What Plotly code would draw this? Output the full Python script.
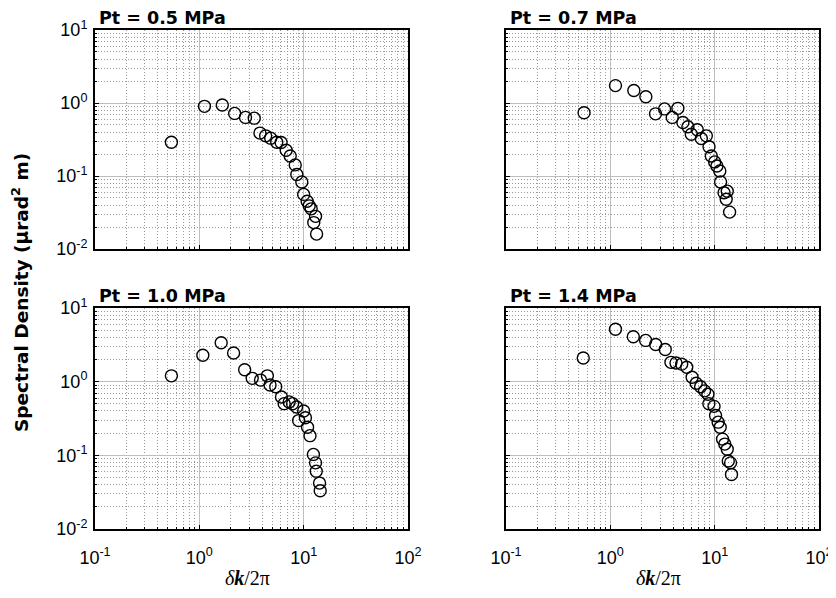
import plotly.graph_objects as go

titles = ["Pt = 0.5 MPa", "Pt = 0.7 MPa", "Pt = 1.0 MPa", "Pt = 1.4 MPa"]

x_05 = [0.54, 1.12, 1.66, 2.18, 2.77, 3.36, 3.81, 4.32, 4.83, 5.52, 6.08, 6.8, 7.43, 8.3, 8.6, 9.6, 10.0, 10.8, 11.3, 11.8, 13.0, 12.5, 13.3]
y_05 = [0.29, 0.90, 0.94, 0.72, 0.635, 0.62, 0.387, 0.355, 0.33, 0.29, 0.288, 0.225, 0.188, 0.142, 0.105, 0.083, 0.056, 0.045, 0.039, 0.0355, 0.028, 0.023, 0.016]

x_07 = [0.56, 1.12, 1.68, 2.19, 2.71, 3.31, 4.44, 3.92, 4.96, 5.54, 5.97, 6.81, 7.45, 8.32, 8.83, 9.29, 10.0, 10.5, 11.2, 11.4, 12.3, 13.2, 12.9, 13.9]
y_07 = [0.736, 1.73, 1.48, 1.22, 0.71, 0.83, 0.845, 0.635, 0.54, 0.472, 0.374, 0.43, 0.327, 0.355, 0.251, 0.188, 0.156, 0.137, 0.117, 0.083, 0.059, 0.062, 0.048, 0.032]

x_10 = [0.54, 1.08, 1.62, 2.13, 2.72, 3.21, 3.86, 4.49, 4.76, 5.4, 6.13, 6.5, 7.26, 7.83, 8.55, 8.95, 10.0, 10.4, 10.9, 11.5, 12.4, 13.0, 13.2, 14.2, 14.4]
y_10 = [1.2, 2.28, 3.37, 2.45, 1.45, 1.11, 1.05, 1.2, 0.90, 0.853, 0.62, 0.503, 0.531, 0.503, 0.453, 0.296, 0.40, 0.323, 0.24, 0.185, 0.103, 0.079, 0.061, 0.042, 0.033]

x_14 = [0.55, 1.12, 1.66, 2.18, 2.72, 3.36, 3.81, 4.26, 4.83, 5.4, 6.08, 6.65, 7.33, 8.0, 8.62, 8.8, 9.86, 10.2, 10.8, 11.3, 11.9, 12.5, 13.2, 13.5, 14.2, 14.5]
y_14 = [2.1, 5.14, 4.07, 3.63, 3.2, 2.73, 1.83, 1.79, 1.73, 1.57, 1.15, 0.95, 0.853, 0.75, 0.676, 0.503, 0.462, 0.348, 0.282, 0.24, 0.166, 0.142, 0.121, 0.0836, 0.079, 0.055]

series = [(x_05, y_05), (x_07, y_07), (x_10, y_10), (x_14, y_14)]

tick_vals = [0.1, 1, 10, 100]
x_tick_text = ["10<sup>-1</sup>", "10<sup>0</sup>", "10<sup>1</sup>", "10<sup>2</sup>"]
y_tick_vals = [0.01, 0.1, 1, 10]
y_tick_text = ["10<sup>-2</sup>", "10<sup>-1</sup>", "10<sup>0</sup>", "10<sup>1</sup>"]

# page body adds an 8px margin; lay the figure out in page pixels minus that offset
OFF = 8
W, H = 836 - OFF, 598 - OFF


def px(x):
    return (x - OFF) / W


def py(y):
    return 1 - (y - OFF) / H


xdoms = [[px(95), px(408)], [px(506), px(819)]]
ydoms = [[py(249), py(30)], [py(529), py(308)]]
title_y = [py(18), py(296)]

fig = go.Figure()
font_main = "Liberation Sans, Arial, sans-serif"

for i, (xs, ys) in enumerate(series):
    r, c = divmod(i, 2)
    n = i + 1
    xa = "x" if n == 1 else f"x{n}"
    ya = "y" if n == 1 else f"y{n}"
    fig.add_trace(go.Scatter(
        x=xs, y=ys, mode="markers", xaxis=xa, yaxis=ya, showlegend=False,
        marker=dict(symbol="circle-open", size=12, color="black", line=dict(width=1.4, color="black")),
    ))
    common = dict(
        type="log", showline=True, linecolor="black", linewidth=2, mirror=True,
        ticks="inside", ticklen=4, tickcolor="black", tickwidth=1,
        showgrid=True, gridcolor="#bdbdbd", gridwidth=1,
        zeroline=False, automargin=False,
        minor=dict(dtick="D1", showgrid=True, gridcolor="#9a9a9a", griddash="1px,2px", gridwidth=1,
                   ticks="inside", ticklen=2, tickcolor="black"),
        tickfont=dict(family=font_main, size=18, color="black"),
    )
    xkey = "xaxis" if n == 1 else f"xaxis{n}"
    ykey = "yaxis" if n == 1 else f"yaxis{n}"
    fig.update_layout(**{
        xkey: dict(common, domain=xdoms[c], range=[-1, 2], anchor=ya,
                   tickvals=tick_vals, ticktext=x_tick_text,
                   showticklabels=(r == 1), ticklabelstandoff=11),
        ykey: dict(common, domain=ydoms[r], range=[-2, 1], anchor=xa,
                   tickvals=y_tick_vals, ticktext=y_tick_text,
                   showticklabels=(c == 0), ticklabelstandoff=2),
    })
    fig.add_annotation(
        text=f"<b>{titles[i]}</b>", xref="paper", yref="paper",
        x=xdoms[c][0] + 3 / W, y=title_y[r], xanchor="left", yanchor="middle",
        showarrow=False, borderpad=0,
        font=dict(family="DejaVu Sans, sans-serif", size=17.5, color="black"),
    )

for c in range(2):
    fig.add_annotation(
        text="<i>δ</i><b><i>k</i></b>/2π", xref="paper", yref="paper",
        x=(xdoms[c][0] + xdoms[c][1]) / 2 - 4 / W, y=py(578), xanchor="center", yanchor="middle",
        showarrow=False, font=dict(family="Liberation Serif, Times New Roman, serif", size=20, color="black"),
    )

fig.add_annotation(
    text="<b>Spectral Density (μrad<sup>2</sup> m)</b>", xref="paper", yref="paper",
    x=px(20), y=py(293), xanchor="center", yanchor="middle", textangle=-90,
    showarrow=False, font=dict(family="DejaVu Sans, sans-serif", size=18.5, color="black"),
)

fig.update_layout(
    width=W, height=H, margin=dict(l=0, r=0, t=0, b=0),
    paper_bgcolor="white", plot_bgcolor="white",
)

fig.write_html("out.html")
